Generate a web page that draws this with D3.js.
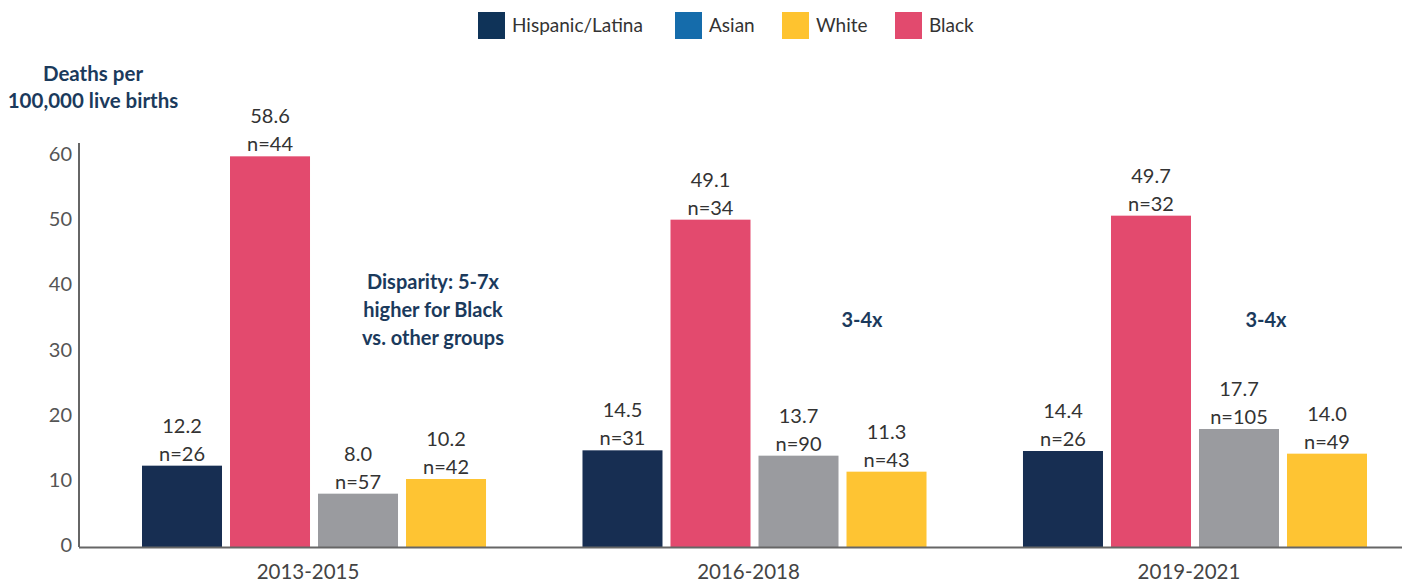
<!DOCTYPE html>
<html>
<head>
<meta charset="utf-8">
<script src="https://cdn.jsdelivr.net/npm/d3@7"></script>
<style>
  body { margin: 0; background: #fff; }
  text { font-family: Lato, "Open Sans", sans-serif; }
</style>
</head>
<body>
<div id="chart"></div>
<script>
// Maternal deaths per 100,000 live births, by period and group
const periods = ['2013-2015', '2016-2018', '2019-2021'];
const groups = ['Hispanic/Latina', 'Black', 'Asian', 'White'];
const hispanicRate = [12.2, 14.5, 14.4];
const hispanicN = [26, 31, 26];
const blackRate = [58.6, 49.1, 49.7];
const blackN = [44, 34, 32];
const asianRate = [8.0, 13.7, 17.7];
const asianN = [57, 90, 105];
const whiteRate = [10.2, 11.3, 14.0];
const whiteN = [42, 43, 49];
const yTicks = [0, 10, 20, 30, 40, 50, 60];
const legendItems = ['Hispanic/Latina', 'Asian', 'White', 'Black'];
const notes = [
  ['Disparity: 5-7x', 'higher for Black', 'vs. other groups'],
  ['3-4x'],
  ['3-4x']
];

const barColor = { 'Hispanic/Latina': '#172e52', 'Black': '#e34a6e', 'Asian': '#9a9b9f', 'White': '#fec433' };
const legendColor = { 'Hispanic/Latina': '#0f3358', 'Asian': '#156cab', 'White': '#fec32f', 'Black': '#e24a6e' };

const rates = { 'Hispanic/Latina': hispanicRate, 'Black': blackRate, 'Asian': asianRate, 'White': whiteRate };
const counts = { 'Hispanic/Latina': hispanicN, 'Black': blackN, 'Asian': asianN, 'White': whiteN };

const rows = [];
periods.forEach((p, i) => {
  groups.forEach(g => rows.push({ period: p, group: g, value: rates[g][i], n: counts[g][i] }));
});

const width = 1403, height = 583;
const svg = d3.select('#chart').append('svg')
  .attr('width', width)
  .attr('height', height);

const y = d3.scaleLinear().domain([0, 60]).range([547, 147]);
const yLabel = d3.scaleLinear().domain([0, 60]).range([545, 154]);

const x0 = d3.scaleBand().domain(periods).range([142, 1367]).paddingInner(0.219).paddingOuter(0);
const x1 = d3.scaleBand().domain(groups).range([0, x0.bandwidth()]).paddingInner(0.0909);

// y axis line and labels
svg.append('line')
  .attr('x1', 79).attr('x2', 79)
  .attr('y1', 143).attr('y2', 547)
  .attr('stroke', '#333').attr('stroke-width', 1.5);

svg.selectAll('.ytick')
  .data(yTicks)
  .enter().append('text')
  .attr('class', 'ytick')
  .attr('x', 72)
  .attr('y', d => yLabel(d))
  .attr('dy', '0.35em')
  .attr('text-anchor', 'end')
  .style('font-size', '20px')
  .style('fill', '#555')
  .text(d => d);

// bars
svg.selectAll('.bar')
  .data(rows)
  .enter().append('rect')
  .attr('class', 'bar')
  .attr('x', d => x0(d.period) + x1(d.group))
  .attr('y', d => y(d.value))
  .attr('width', x1.bandwidth())
  .attr('height', d => y(0) - y(d.value))
  .attr('fill', d => barColor[d.group]);

// baseline
svg.append('line')
  .attr('x1', 79).attr('x2', 1402)
  .attr('y1', 547.5).attr('y2', 547.5)
  .attr('stroke', '#666').attr('stroke-width', 2);

// value labels
const lab = svg.selectAll('.vlab')
  .data(rows)
  .enter().append('g')
  .attr('class', 'vlab')
  .attr('transform', d => `translate(${x0(d.period) + x1(d.group) + x1.bandwidth() / 2},${y(d.value)})`);

lab.append('text')
  .attr('y', -33)
  .attr('text-anchor', 'middle')
  .style('font-size', '20px')
  .style('fill', '#333')
  .text(d => d.value.toFixed(1));

lab.append('text')
  .attr('y', -5)
  .attr('text-anchor', 'middle')
  .style('font-size', '20px')
  .style('fill', '#333')
  .text(d => `n=${d.n}`);

// period labels
svg.selectAll('.xlab')
  .data(periods)
  .enter().append('text')
  .attr('class', 'xlab')
  .attr('x', d => x0(d) + x0.bandwidth() / 2 - 6)
  .attr('y', 579)
  .attr('text-anchor', 'middle')
  .style('font-size', '20.5px')
  .style('fill', '#444')
  .text(d => d);

// disparity notes, first line y given
const noteX = [433, 862, 1266];
const noteY = [282, 320, 320];
notes.forEach((lines, i) => {
  svg.append('text')
    .attr('x', noteX[i])
    .attr('y', noteY[i])
    .attr('text-anchor', 'middle')
    .style('font-size', '20px')
    .style('font-weight', 'bold')
    .style('fill', '#1b3a5c')
    .selectAll('tspan')
    .data(lines)
    .enter().append('tspan')
    .attr('x', noteX[i])
    .attr('dy', (d, j) => j === 0 ? '0.35em' : 28)
    .text(d => d);
});

// y title
svg.append('text')
  .attr('x', 93)
  .attr('y', 81)
  .attr('text-anchor', 'middle')
  .style('font-size', '20.5px')
  .style('font-weight', 'bold')
  .style('fill', '#1b3a5c')
  .text('Deaths per');
svg.append('text')
  .attr('x', 93)
  .attr('y', 108)
  .attr('text-anchor', 'middle')
  .style('font-size', '20.5px')
  .style('font-weight', 'bold')
  .style('fill', '#1b3a5c')
  .text('100,000 live births');

// legend
const legendX = [478, 675, 782, 895];
const legend = svg.selectAll('.leg')
  .data(legendItems)
  .enter().append('g')
  .attr('class', 'leg')
  .attr('transform', (d, i) => `translate(${legendX[i]},12)`);

legend.append('rect')
  .attr('width', 27).attr('height', 27)
  .attr('fill', d => legendColor[d]);

legend.append('text')
  .attr('x', 34)
  .attr('y', 13.5)
  .attr('dy', '0.35em')
  .style('font-size', '19px')
  .style('fill', '#333')
  .text(d => d);
</script>
</body>
</html>
